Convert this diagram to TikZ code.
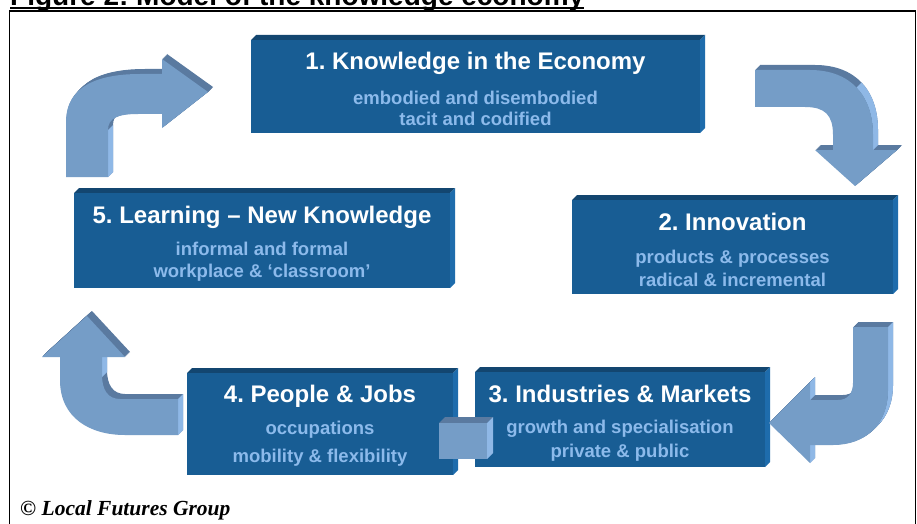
\documentclass[tikz,border=0pt]{standalone}
\usepackage{fontspec}
\setmainfont{Liberation Sans}
\newfontfamily\creditfont{Liberation Serif}
\usetikzlibrary{calc}
\frenchspacing

\definecolor{boxfront}{RGB}{24,93,148}
\definecolor{boxtop}{RGB}{19,70,112}
\definecolor{boxside}{RGB}{30,108,172}
\definecolor{arrowfront}{RGB}{117,157,199}
\definecolor{arrowdark}{RGB}{90,122,160}
\definecolor{arrowlight}{RGB}{143,184,230}
\definecolor{subtext}{RGB}{140,186,235}

% slab: name, x1, y1, x2, y2 of the front face; top and right faces are extruded up-right
\newcommand{\slab}[5]{%
  \fill[boxtop] (#2,#3) -- (#2+5,#3-5) -- (#4+5,#3-5) -- (#4,#3) -- cycle;
  \fill[boxside] (#4,#3) -- (#4+5,#3-5) -- (#4+5,#5-5) -- (#4,#5) -- cycle;
  \node[boxfront, anchor=north west, minimum width={(#4-#2)*1pt},
        minimum height={(#5-#3)*1pt}] (#1) at (#2,#3) {};
}
% depth of a bent arrow: copies of its outline stacked up-right
\newcommand{\extrude}[1]{%
  \foreach \k in {1,...,10}{\fill[arrowdark, shift={(\k*0.5,-\k*0.5)}] #1;}%
}

% outlines of the four bent arrows
\def\arrowA{(66,177) -- (66,122) .. controls (66,85) and (100,74) .. (140,74)
  -- (162,74) -- (162,59) -- (208,92) -- (162,128) -- (162,114) -- (138,114)
  .. controls (118,114) and (108,118) .. (108,130) -- (108,177) -- cycle}
\def\arrowB{(755,70) -- (810,70) .. controls (850,70) and (873,95) .. (873,135)
  -- (873,150) -- (897,150) -- (855,186) -- (815,150) -- (833,150) -- (833,135)
  .. controls (833,115) and (825,107) .. (805,107) -- (755,107) -- cycle}
\def\arrowC{(853,327) -- (888,327) -- (888,390) .. controls (888,425) and (865,445) .. (833,445)
  -- (810,445) -- (810,463) -- (769,423) -- (810,382) -- (810,400) -- (838,400)
  .. controls (848,400) and (853,393) .. (853,383) -- cycle}
\def\arrowD{(178,399) -- (178,435) -- (125,435) .. controls (90,435) and (60,418) .. (60,380)
  -- (60,357) -- (42,357) -- (87,316) -- (125,357) -- (102,357) -- (102,375)
  .. controls (102,390) and (108,399) .. (120,399) -- cycle}

\begin{document}
\begin{tikzpicture}[x=1pt,y=-1pt,
  boxfront/.style={fill=boxfront, draw=none, inner sep=0pt, outer sep=0pt},
  ttl/.style={anchor=base, inner sep=0pt, text=white,
              font=\fontsize{24}{28}\selectfont\bfseries},
  sub/.style={anchor=base, inner sep=0pt, text=subtext,
              font=\fontsize{18.5}{22}\selectfont\bfseries}]
\useasboundingbox (0,0) rectangle (917,524);
\clip (0,0) rectangle (917,524);
\fill[white] (0,0) rectangle (917,524);

% heading and frame
\node[anchor=base west, inner sep=0pt, font=\fontsize{28}{30}\selectfont\bfseries]
  (fig) at (10,5.5) {Figure 2: Model of the knowledge economy};
\draw[line width=2.2pt] ($(fig.base west)+(0,2.8)$) -- ($(fig.base east)+(0,2.8)$);
\draw[line width=1.2pt] (9.5,11) rectangle (915.5,560);

% the five stages
\slab{b1}{251}{40}{700}{133}
\slab{b2}{572}{200}{893}{294}
\slab{b5}{74}{193}{450}{288}
\slab{b4}{187}{373}{453}{475}
\slab{b3}{475}{372}{765}{467}

\node[ttl] (t1) at (475.5,70) {1. Knowledge in the Economy};
\node[sub] (s1a) at (475.5,104) {embodied and disembodied};
\node[sub] (s1b) at (475.5,125) {tacit and codified};

\node[ttl] (t2) at (732.5,230) {2. Innovation};
\node[sub] (s2a) at (732.5,263) {products \& processes};
\node[sub] (s2b) at (732.5,286) {radical \& incremental};

\node[ttl] (t3) at (620,402) {3. Industries \& Markets};
\node[sub] (s3a) at (620,433) {growth and specialisation};
\node[sub] (s3b) at (620,457) {private \& public};

\node[ttl] (t4) at (320,402) {4. People \& Jobs};
\node[sub] (s4a) at (320,434) {occupations};
\node[sub] (s4b) at (320,462) {mobility \& flexibility};

\node[ttl] (t5) at (262,223) {5. Learning – New Knowledge};
\node[sub] (s5a) at (262,255) {informal and formal};
\node[sub] (s5b) at (262,277) {workplace \& ‘classroom’};

% arrow 5 -> 1
\extrude{\arrowA}
\fill[arrowlight] (108,130) -- (113,125) -- (113,172) -- (108,177) -- cycle;
\fill[arrowfront] \arrowA;

% arrow 1 -> 2
\extrude{\arrowB}
\fill[arrowlight] (856.5,87.5) .. controls (867.25,98.75) and (873,115) .. (873,135)
  -- (873,150) -- (878,145) -- (878,130) .. controls (878,110) and (872.25,93.75) .. (861.5,82.5) -- cycle;
\fill[arrowfront] \arrowB;

% arrow 2 -> 3
\extrude{\arrowC}
\fill[arrowlight] (888,327) -- (893,322) -- (893,385) .. controls (893,402.5) and (887.25,416.25) .. (877.5,425.6)
  -- (872.5,430.6) .. controls (882.25,421.25) and (888,407.5) .. (888,390) -- cycle;
\fill[arrowlight] (810,382) -- (815,377) -- (815,395) -- (810,400) -- cycle;
\fill[arrowlight] (810,445) -- (815,440) -- (815,458) -- (810,463) -- cycle;
\fill[arrowfront] \arrowC;

% arrow 4 -> 5
\extrude{\arrowD}
\fill[arrowlight] (178,399) -- (183,394) -- (183,430) -- (178,435) -- cycle;
\fill[arrowlight] (102,357) -- (107,352) -- (107,372) -- (102,377) -- cycle;
\fill[arrowfront] \arrowD;

% link block between 3 and 4
\fill[arrowdark] (439,423) -- (445,417) -- (493,417) -- (487,423) -- cycle;
\fill[arrowlight] (487,423) -- (493,417) -- (493,453) -- (487,459) -- cycle;
\node[fill=arrowfront, inner sep=0pt, outer sep=0pt, anchor=north west,
      minimum width=48pt, minimum height=36pt] (link) at (439,423) {};

% credit line
\node[anchor=base west, inner sep=0pt,
      font=\creditfont\fontsize{21.5}{24}\selectfont\bfseries\itshape]
  (credit) at (20,515) {© Local Futures Group};
\end{tikzpicture}
\end{document}
